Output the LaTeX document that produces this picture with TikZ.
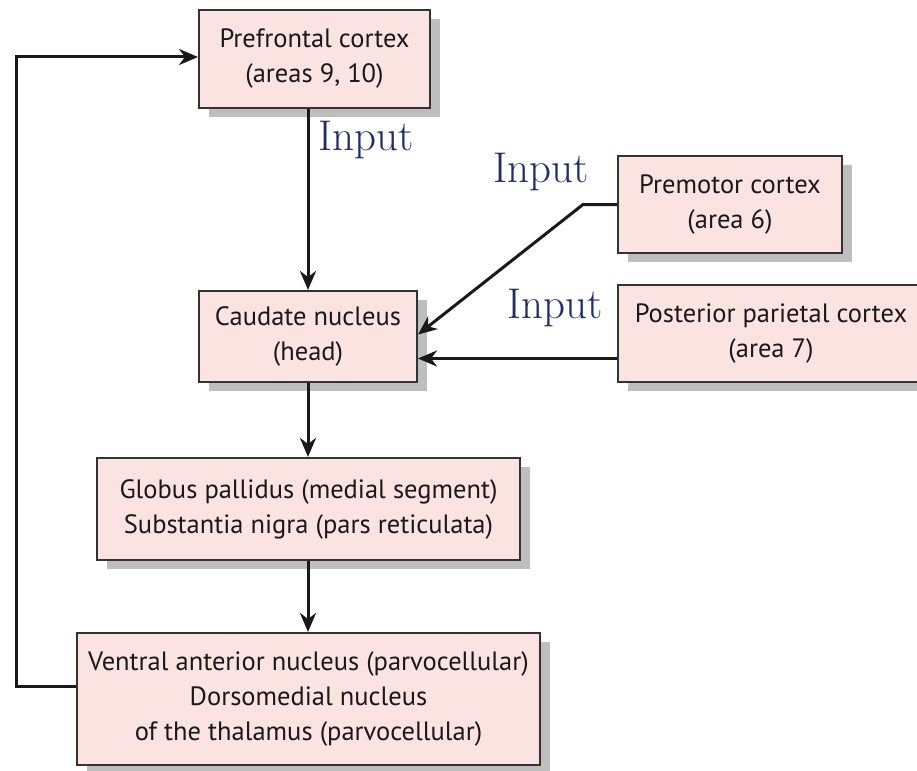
\documentclass[tikz,border=0pt]{standalone}
\usepackage{fontspec}
\newfontfamily\boxfont{PT Sans}
\usetikzlibrary{arrows.meta,shadows}
\definecolor{boxfill}{HTML}{FAE3E0}
\definecolor{boxline}{HTML}{333333}
\definecolor{shade}{HTML}{BEBEBE}
\definecolor{inputblue}{HTML}{1F2E6A}
\tikzset{
  region/.style={draw=boxline, line width=2pt, fill=boxfill, align=center,
    inner sep=0pt, text=black!90,
    font=\boxfont\fontsize{26.5}{35}\selectfont,
    drop shadow={shadow xshift=10pt, shadow yshift=-9pt, fill=shade, opacity=1}},
  link/.style={draw=black!90, line width=3pt,
    -{Stealth[length=19pt,width=16pt,inset=6pt]}},
  inputlabel/.style={text=inputblue, font=\fontsize{43}{44}\selectfont, inner sep=0pt}
}
\begin{document}
\begin{tikzpicture}[x=1pt,y=-1pt]
\useasboundingbox (0,0) rectangle (917,770);

% cortical and subcortical stations
\node[region, minimum width=231pt, minimum height=98pt] (prefrontal) at (314.5,59)
  {Prefrontal cortex\\(areas 9, 10)};
\node[region, minimum width=224pt, minimum height=97pt] (premotor) at (730,204.5)
  {Premotor cortex\\(area 6)};
\node[region, minimum width=218pt, minimum height=91pt] (caudate) at (308,336.5)
  {Caudate nucleus\\(head)};
\node[region, minimum width=306pt, minimum height=97pt] (parietal) at (771,333.5)
  {Posterior parietal cortex\\(area 7)};
\node[region, minimum width=423pt, minimum height=102pt] (pallidus) at (308.5,509)
  {Globus pallidus (medial segment)\\Substantia nigra (pars reticulata)};
\node[region, minimum width=463pt, minimum height=132pt] (thalamus) at (308.5,699)
  {Ventral anterior nucleus (parvocellular)\\Dorsomedial nucleus\\of the thalamus (parvocellular)};

% labels
\node[inputlabel] (in1) at (366,140) {Input};
\node[inputlabel] (in2) at (541,172) {Input};
\node[inputlabel] (in3) at (555,308) {Input};

% connections
\coordinate (bend) at (583,0);
\coordinate (loop) at (16,0);
\draw[link] (caudate.north |- prefrontal.south) -- (caudate.north);
\draw[link] (premotor.west) -- (premotor.west -| bend) -- ([yshift=2pt]caudate.east);
\draw[link] ([yshift=-22pt]caudate.east -| parietal.west) -- ([yshift=-22pt]caudate.east);
\draw[link] (caudate.south) -- (caudate.south |- pallidus.north);
\draw[link] (caudate.south |- pallidus.south) -- (caudate.south |- thalamus.north);
\draw[link] ([yshift=13pt]thalamus.west) -- ([yshift=13pt]thalamus.west -| loop)
  -- ([yshift=2pt]loop |- prefrontal.west) -- ([yshift=2pt]prefrontal.west);
\end{tikzpicture}
\end{document}
